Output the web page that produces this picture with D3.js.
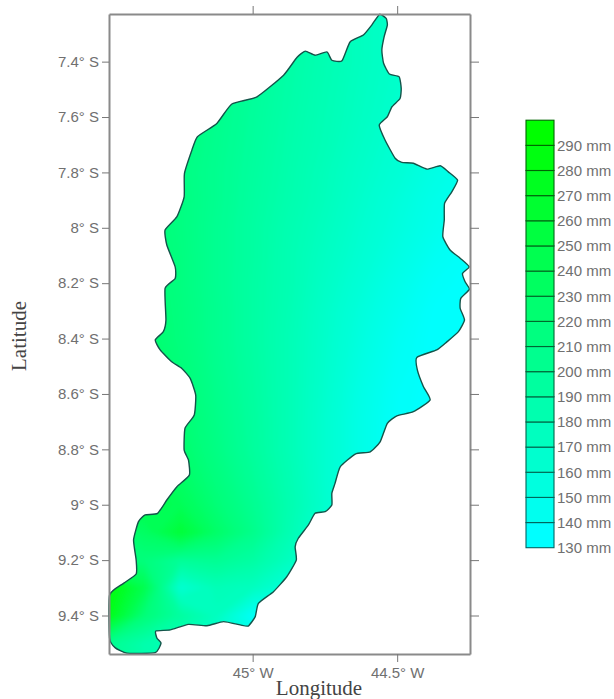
<!DOCTYPE html>
<html>
<head>
<meta charset="utf-8">
<script src="https://cdn.jsdelivr.net/npm/d3@7"></script>
<style>
  html, body { margin: 0; padding: 0; background: #fff; }
  svg { display: block; }
  .ticklabel text { font-family: "Liberation Sans", Arial, sans-serif; font-size: 15px; fill: #707070; }
  .title { font-family: "Liberation Serif", serif; font-size: 21px; fill: #444; }
</style>
</head>
<body>
<div id="chart"></div>
<script>
const latTicks = [7.4, 7.6, 7.8, 8, 8.2, 8.4, 8.6, 8.8, 9, 9.2, 9.4];
const lonTicks = [45, 44.5];
const legendLevels = [130, 140, 150, 160, 170, 180, 190, 200, 210, 220, 230, 240, 250, 260, 270, 280, 290];

// rainfall, mm. columns run west to east, rows north to south
const gridLons = [45.5, 45.375, 45.25, 45.125, 45, 44.875, 44.75, 44.625, 44.5, 44.375, 44.25];
const gridLats = [7.2, 7.3, 7.4, 7.5, 7.6, 7.7, 7.8, 7.9, 8, 8.1, 8.2, 8.3, 8.4, 8.5, 8.6, 8.7, 8.8, 8.9, 9, 9.1, 9.2, 9.3, 9.4, 9.5, 9.6];
const rain = [
  [222, 216, 210, 204, 195, 186, 178, 170, 163, 156, 150],
  [222, 216, 210, 204, 195, 186, 178, 170, 163, 156, 150],
  [222, 216, 210, 204, 195, 186, 178, 170, 163, 156, 150],
  [222, 216, 210, 203, 194, 185, 177, 169, 162, 154, 148],
  [222, 216, 209, 202, 193, 184, 176, 168, 160, 152, 146],
  [222, 216, 209, 201, 192, 183, 175, 166, 158, 150, 144],
  [222, 216, 208, 200, 191, 182, 173, 164, 156, 147, 141],
  [223, 217, 209, 200, 190, 181, 172, 162, 153, 144, 138],
  [224, 218, 209, 199, 189, 179, 170, 160, 151, 142, 135],
  [225, 219, 210, 199, 189, 178, 168, 158, 148, 138, 132],
  [226, 220, 210, 199, 188, 178, 166, 155, 144, 134, 130],
  [227, 221, 211, 200, 188, 177, 164, 152, 141, 131, 130],
  [228, 222, 212, 200, 188, 176, 163, 150, 138, 130, 130],
  [230, 224, 214, 201, 189, 176, 162, 148, 136, 130, 130],
  [232, 226, 216, 203, 190, 176, 161, 146, 134, 130, 130],
  [235, 229, 219, 205, 191, 176, 160, 145, 133, 130, 130],
  [238, 232, 222, 207, 192, 176, 160, 145, 133, 130, 130],
  [243, 238, 227, 211, 195, 178, 160, 145, 133, 130, 130],
  [245, 245, 236, 216, 199, 180, 161, 146, 134, 130, 130],
  [215, 228, 255, 225, 203, 178, 156, 144, 134, 130, 130],
  [218, 212, 195, 198, 188, 170, 152, 143, 135, 130, 130],
  [285, 240, 158, 175, 170, 152, 145, 140, 135, 130, 130],
  [275, 215, 190, 170, 135, 140, 140, 138, 135, 130, 130],
  [200, 182, 175, 160, 145, 140, 140, 138, 135, 130, 130],
  [200, 182, 175, 160, 145, 140, 140, 138, 135, 130, 130]
];

// basin outline, lon / lat
const outline = [
  [44.561,7.229],[44.538,7.244],[44.534,7.268],[44.545,7.31],[44.553,7.358],[44.547,7.406],[44.527,7.445],[44.493,7.455],
  [44.486,7.497],[44.49,7.533],[44.518,7.563],[44.534,7.599],[44.562,7.629],[44.542,7.683],[44.507,7.749],[44.484,7.764],
  [44.444,7.767],[44.397,7.788],[44.351,7.776],[44.323,7.798],[44.291,7.828],[44.311,7.87],[44.336,7.912],[44.337,7.972],
  [44.342,8.032],[44.317,8.08],[44.282,8.11],[44.251,8.141],[44.274,8.165],[44.265,8.195],[44.25,8.222],[44.28,8.255],
  [44.282,8.291],[44.267,8.333],[44.288,8.375],[44.328,8.412],[44.363,8.441],[44.432,8.468],[44.43,8.514],[44.409,8.574],
  [44.386,8.622],[44.444,8.664],[44.501,8.679],[44.534,8.706],[44.559,8.773],[44.593,8.809],[44.645,8.817],[44.697,8.863],
  [44.715,8.923],[44.726,8.959],[44.726,9.001],[44.749,9.025],[44.784,9.031],[44.807,9.073],[44.842,9.121],[44.853,9.152],
  [44.849,9.2],[44.882,9.26],[44.928,9.314],[44.98,9.356],[44.991,9.404],[45.015,9.438],[45.043,9.434],[45.101,9.422],
  [45.158,9.437],[45.222,9.432],[45.285,9.452],[45.335,9.456],[45.331,9.482],[45.317,9.5],[45.337,9.534],[45.435,9.536],
  [45.476,9.516],[45.495,9.482],[45.495,9.326],[45.447,9.284],[45.403,9.25],[45.403,9.2],[45.412,9.127],[45.395,9.061],
  [45.372,9.037],[45.329,9.031],[45.297,8.983],[45.262,8.935],[45.219,8.893],[45.222,8.839],[45.237,8.802],[45.234,8.724],
  [45.202,8.676],[45.197,8.604],[45.216,8.544],[45.245,8.508],[45.28,8.484],[45.32,8.441],[45.337,8.405],[45.309,8.375],
  [45.3,8.333],[45.303,8.219],[45.268,8.183],[45.268,8.141],[45.297,8.062],[45.303,8.008],[45.262,7.96],[45.237,7.888],
  [45.236,7.804],[45.21,7.719],[45.191,7.671],[45.124,7.623],[45.072,7.553],[44.985,7.527],[44.893,7.449],[44.847,7.385],
  [44.818,7.362],[44.784,7.377],[44.743,7.365],[44.726,7.395],[44.691,7.397],[44.663,7.329],[44.617,7.304],[44.588,7.268]
];

const W = 614, H = 699;
const frame = { left: 109, right: 470, top: 14, bottom: 654 };

const svg = d3.select("#chart").append("svg").attr("width", W).attr("height", H);

// 45 W sits at 252.5 and 44.5 W at 397, 7.4 S at 61.5 and 9.4 S at 615.5
const x = d3.scaleLinear().domain([45.497, 44.248]).range([frame.left, frame.right]);
const y = d3.scaleLinear().domain([7.228, 9.539]).range([frame.top, frame.bottom]);

const color = d3.scaleLinear().domain([130, 290]).range(["#00ffff", "#00ff00"]).clamp(true);

const defs = svg.append("defs");
const basinPath = d3.line().x(d => x(d[0])).y(d => y(d[1])).curve(d3.curveCardinalClosed.tension(0.5));

defs.append("clipPath").attr("id", "basin")
  .append("path").attr("d", basinPath(outline));
defs.append("filter").attr("id", "soft").attr("x", "-5%").attr("y", "-5%").attr("width", "110%").attr("height", "110%")
  .append("feGaussianBlur").attr("stdDeviation", 2);

// rain field as filled contours, painted low to high
const contours = d3.contours().size([gridLons.length, gridLats.length]).thresholds(d3.range(130, 300, 2))(rain.flat());
const lonAt = d3.scaleLinear().domain([0.5, gridLons.length - 0.5]).range([gridLons[0], gridLons[gridLons.length - 1]]);
const latAt = d3.scaleLinear().domain([0.5, gridLats.length - 0.5]).range([gridLats[0], gridLats[gridLats.length - 1]]);
const gridPath = d3.geoPath(d3.geoTransform({
  point(c, r) { this.stream.point(x(lonAt(c)), y(latAt(r))); }
}));

const field = svg.append("g").attr("clip-path", "url(#basin)").append("g").attr("filter", "url(#soft)");
field.append("rect").attr("x", frame.left - 10).attr("y", frame.top - 10)
  .attr("width", frame.right - frame.left + 20).attr("height", frame.bottom - frame.top + 20).attr("fill", color(190));
field.selectAll("path").data(contours).enter().append("path")
  .attr("d", gridPath)
  .attr("fill", d => color(d.value + 1));

svg.append("path")
  .attr("d", basinPath(outline))
  .attr("fill", "none")
  .attr("stroke", "#14544a")
  .attr("stroke-width", 1.4);

// frame and ticks
function styleAxis(g) {
  g.attr("class", "ticklabel");
  g.select(".domain").attr("stroke", "#8a8a8a").attr("stroke-width", 2);
  g.selectAll(".tick line").attr("stroke", "#777").attr("stroke-width", 1);
}
const latLabel = d => d + "° S";
const lonLabel = d => d + "° W";

svg.append("g").attr("transform", `translate(${frame.left},0)`)
  .call(d3.axisLeft(y).tickValues(latTicks).tickFormat(latLabel).tickSize(7).tickSizeOuter(0).tickPadding(3))
  .call(styleAxis);
svg.append("g").attr("transform", `translate(${frame.right},0)`)
  .call(d3.axisRight(y).tickValues(latTicks).tickFormat("").tickSize(9).tickSizeOuter(0))
  .call(styleAxis);
svg.append("g").attr("transform", `translate(0,${frame.top})`)
  .call(d3.axisTop(x).tickValues(lonTicks).tickFormat("").tickSize(8).tickSizeOuter(0))
  .call(styleAxis);
svg.append("g").attr("transform", `translate(0,${frame.bottom})`)
  .call(d3.axisBottom(x).tickValues(lonTicks).tickFormat(lonLabel).tickSize(8).tickSizeOuter(0).tickPadding(5))
  .call(styleAxis);

// axis titles
svg.append("text").attr("class", "title").attr("text-anchor", "middle")
  .attr("x", 319).attr("y", 695).text("Longitude");
svg.append("text").attr("class", "title").attr("text-anchor", "middle")
  .attr("transform", "translate(26,336) rotate(-90)").text("Latitude");

// legend
const legend = { left: 526, right: 554 };
const legendY = d3.scaleLinear().domain([130, 300]).range([547.7, 120.2]);
const legendG = svg.append("g");
legendG.selectAll("rect").data(legendLevels).enter().append("rect")
  .attr("x", legend.left)
  .attr("width", legend.right - legend.left)
  .attr("y", d => legendY(d + 10))
  .attr("height", d => legendY(d) - legendY(d + 10))
  .attr("fill", d => color(d))
  .attr("stroke", d => d3.rgb(color(d)).darker(2.6))
  .attr("stroke-width", 1.1);

svg.append("g").attr("transform", `translate(${legend.right},0)`)
  .call(d3.axisRight(legendY).tickValues(legendLevels).tickFormat(d => d + " mm").tickSize(0).tickPadding(3))
  .call(g => g.attr("class", "ticklabel"))
  .call(g => g.select(".domain").remove());
</script>
</body>
</html>
